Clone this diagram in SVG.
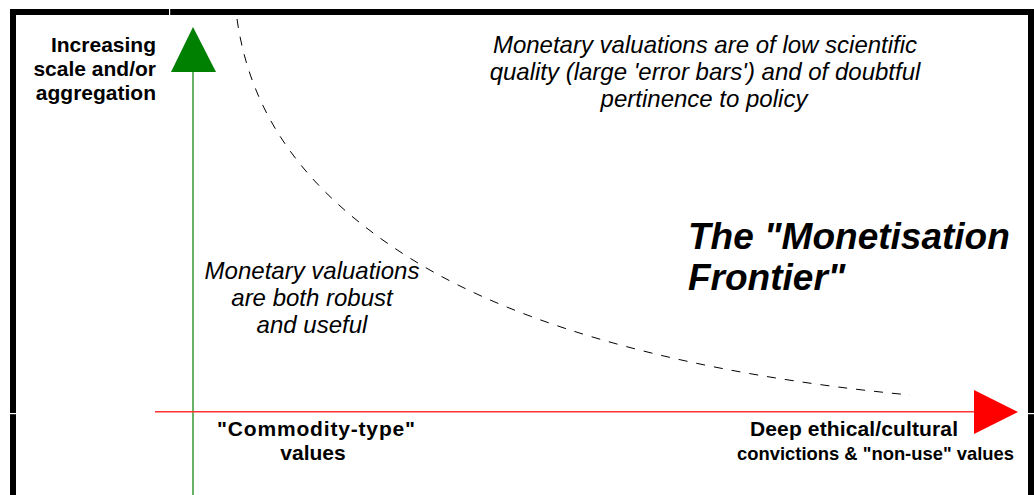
<svg xmlns="http://www.w3.org/2000/svg" width="1034" height="495" viewBox="0 0 1034 495">
<style>
.lbl{font-family:"Liberation Sans",Arial,sans-serif;font-weight:bold;fill:#000}
.it{font-family:"Liberation Sans",Arial,sans-serif;font-style:italic;fill:#000}
.title{font-family:"Liberation Sans",Arial,sans-serif;font-style:italic;font-weight:bold;fill:#000}
</style>
<rect width="1034" height="495" fill="#fff"/>
<g id="frame">
<rect x="10" y="9" width="1024" height="6" fill="#000"/>
<rect x="10" y="9" width="6" height="486" fill="#000"/>
<rect x="1028" y="9" width="6" height="486" fill="#000"/>
<rect x="169" y="9" width="1.2" height="6" fill="#fff"/>
<rect x="10" y="413" width="6" height="1.2" fill="#fff"/>
<rect x="1028" y="413" width="6" height="1.2" fill="#fff"/>
</g>
<g id="connectors">
<line x1="193" y1="70" x2="193" y2="495" stroke="#008000" stroke-width="1.2"/>
<polygon points="193,27 171,72 216,72" fill="#008000"/>
<line x1="155" y1="411.8" x2="976" y2="411.8" stroke="#f33" stroke-width="1.4"/>
<polygon points="974,390 1018,412 974,434" fill="#f00"/>
<path d="M237,19 C250,110 300,190 413,260 S700,375 910,395" fill="none" stroke="#000" stroke-width="1" stroke-dasharray="9,9"/>
</g>
<g id="y-label">
<text class="lbl" font-size="21" text-anchor="end"><tspan x="156" y="52">Increasing</tspan><tspan x="156" y="76">scale and/or</tspan><tspan x="156" y="100">aggregation</tspan></text>
</g>
<g id="top-note">
<text class="it" font-size="24" text-anchor="middle"><tspan x="705" y="53">Monetary valuations are of low scientific</tspan><tspan x="705" y="80">quality (large 'error bars') and of doubtful</tspan><tspan x="704" y="107">pertinence to policy</tspan></text>
</g>
<g id="left-note">
<text class="it" font-size="24" text-anchor="middle"><tspan x="312" y="279">Monetary valuations</tspan><tspan x="312" y="306">are both robust</tspan><tspan x="312" y="333">and useful</tspan></text>
</g>
<g id="title">
<text class="title" font-size="37"><tspan x="688" y="249">The "Monetisation</tspan><tspan x="688" y="290">Frontier"</tspan></text>
</g>
<g id="x-left-label">
<text class="lbl" font-size="21" text-anchor="middle"><tspan x="316" y="436" textLength="198">"Commodity-type"</tspan><tspan x="313" y="460">values</tspan></text>
</g>
<g id="x-right-label">
<text class="lbl" font-size="21"><tspan x="750" y="436" textLength="208">Deep ethical/cultural</tspan></text>
<text class="lbl" font-size="18.4" x="737" y="460">convictions &amp; "non-use" values</text>
</g>
</svg>
